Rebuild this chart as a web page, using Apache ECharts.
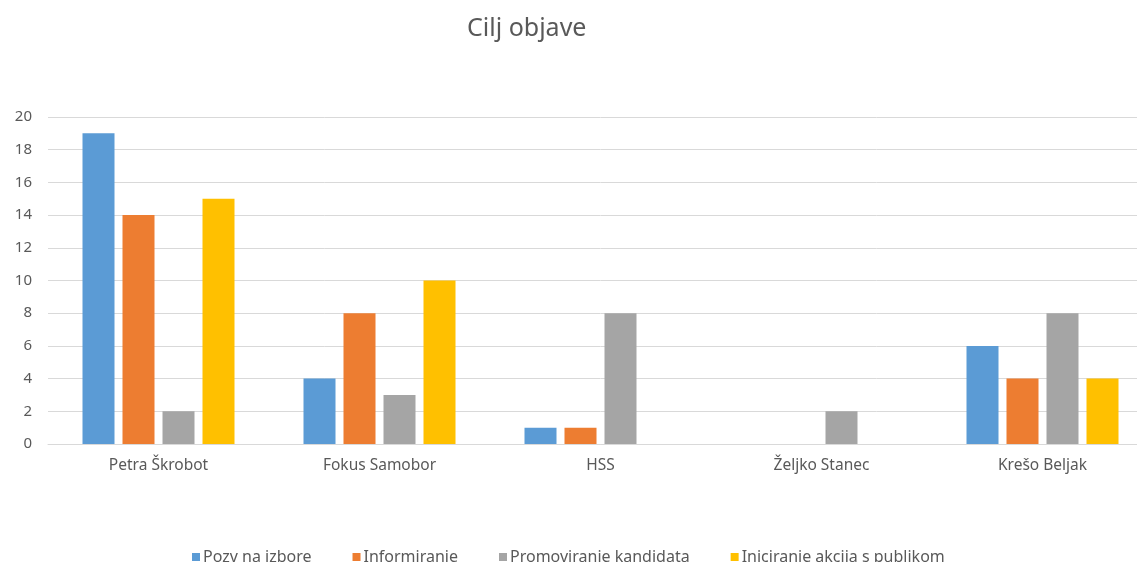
<!DOCTYPE html>
<html>
<head>
<meta charset="utf-8">
<script src="https://cdn.jsdelivr.net/npm/echarts@6/dist/echarts.min.js"></script>
<style>
  html, body { margin: 0; padding: 0; background: #fff; overflow: hidden; }
  /* plot izlazi desno izvan prozora kao na originalu */
  #main { width: 1153px; height: 562px; }
</style>
</head>
<body>
<div id="main"></div>
<script>
  // podaci
  var categories = ['Petra Škrobot', 'Fokus Samobor', 'HSS', 'Željko Stanec', 'Krešo Beljak'];
  var seriesNames = ['Pozv na izbore', 'Informiranje', 'Promoviranje kandidata', 'Iniciranje akcija s publikom'];
  var pozv = [19, 4, 1, 0, 6];
  var informiranje = [14, 8, 1, 0, 4];
  var promoviranje = [2, 3, 8, 2, 8];
  var iniciranje = [15, 10, 0, 0, 4];
  var colors = ['#5b9bd5', '#ed7d31', '#a5a5a5', '#ffc000'];

  var myChart = echarts.init(document.getElementById('main'));
  var font = 'Noto Sans, sans-serif';

  var allData = [pozv, informiranje, promoviranje, iniciranje];
  var series = [];
  for (var i = 0; i < seriesNames.length; i++) {
    series.push({
      name: seriesNames[i],
      type: 'bar',
      data: allData[i],
      barWidth: 32,
      barGap: '25%',
      itemStyle: { color: colors[i] }
    });
  }

  var option = {
    animation: false,
    title: {
      text: 'Cilj objave',
      left: 462,
      top: 11,
      textStyle: { fontFamily: font, fontSize: 25, fontWeight: 'normal', color: '#595959' }
    },
    legend: {
      data: seriesNames,
      bottom: -8,
      left: 187,
      icon: 'rect',
      itemWidth: 8,
      itemHeight: 8,
      itemGap: 41,
      textStyle: { fontFamily: font, fontSize: 16, color: '#595959', padding: [0, 0, 0, -2] }
    },
    grid: { left: 48, right: 0, top: 117, bottom: 118 },
    xAxis: {
      type: 'category',
      data: categories,
      axisTick: { show: false },
      axisLine: { lineStyle: { color: '#d9d9d9' } },
      axisLabel: { fontFamily: font, fontSize: 15.5, color: '#595959', margin: 14 }
    },
    yAxis: {
      type: 'value',
      min: 0,
      max: 20,
      interval: 2,
      axisLine: { show: false },
      axisTick: { show: false },
      splitLine: { lineStyle: { color: '#d9d9d9' } },
      axisLabel: { fontFamily: font, fontSize: 15, color: '#595959', margin: 16 }
    },
    series: series
  };
  myChart.setOption(option);
</script>
</body>
</html>
